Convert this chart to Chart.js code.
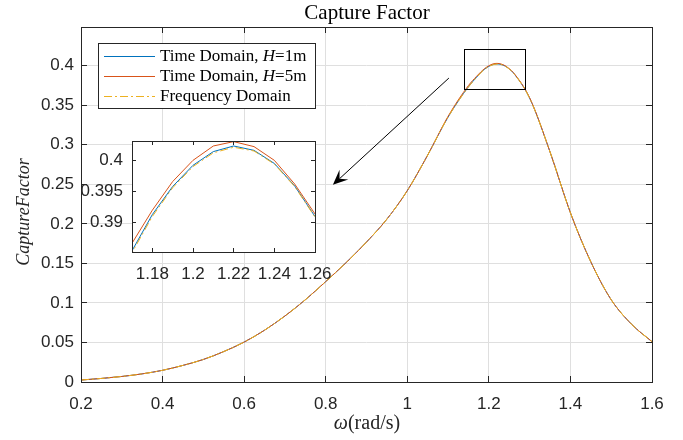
<!DOCTYPE html>
<html>
<head>
<meta charset="utf-8">
<script src="https://cdn.jsdelivr.net/npm/chart.js@4.4.1/dist/chart.umd.min.js"></script>
<style>
  html, body { margin: 0; padding: 0; background: #fff; }
  #wrap { position: relative; width: 683px; height: 440px; }
  #main { position: absolute; left: 0; top: 0; }
  #inset { position: absolute; left: 60px; top: 130px; }
</style>
</head>
<body>
<div id="wrap">
  <canvas id="main" width="683" height="440"></canvas>
  <canvas id="inset" width="290" height="150"></canvas>
</div>
<script>
// frequency (rad/s)
var omega = [0.2, 0.25, 0.3, 0.35, 0.4, 0.45, 0.5, 0.55, 0.6, 0.65, 0.7, 0.75, 0.8, 0.85, 0.9, 0.95,
  1.0, 1.05, 1.1, 1.15, 1.17, 1.18, 1.19, 1.2, 1.21, 1.22, 1.23, 1.24, 1.25, 1.26,
  1.3, 1.35, 1.4, 1.45, 1.5, 1.55, 1.6];

var timeH1 = [0.0025, 0.0045, 0.007, 0.0103, 0.0148, 0.021, 0.0285, 0.0385, 0.0505, 0.0655, 0.0835, 0.104, 0.127, 0.151, 0.177, 0.206,
  0.242, 0.287, 0.335, 0.3735, 0.3855, 0.3913, 0.3958, 0.3992, 0.4014, 0.4023, 0.4016, 0.3995, 0.3959, 0.3910,
  0.3590, 0.291, 0.214, 0.152, 0.104, 0.073, 0.051];

var timeH5 = [0.0025, 0.0045, 0.007, 0.0103, 0.0148, 0.021, 0.0285, 0.0385, 0.0505, 0.0655, 0.0835, 0.104, 0.127, 0.151, 0.177, 0.206,
  0.242, 0.287, 0.336, 0.375, 0.3867, 0.3920, 0.3966, 0.4000, 0.4023, 0.4030, 0.4022, 0.4000, 0.3962, 0.3914,
  0.3595, 0.291, 0.214, 0.152, 0.104, 0.073, 0.051];

var freqDomain = [0.0025, 0.0045, 0.007, 0.0103, 0.0148, 0.021, 0.0285, 0.0385, 0.0505, 0.0655, 0.0835, 0.104, 0.127, 0.151, 0.177, 0.206,
  0.242, 0.287, 0.335, 0.373, 0.3852, 0.3910, 0.3956, 0.3990, 0.4012, 0.4021, 0.4015, 0.3994, 0.3958, 0.3909,
  0.3588, 0.291, 0.214, 0.152, 0.104, 0.073, 0.051];

// *...* marks italic text
var seriesLabels = ['Time Domain, *H*=1m', 'Time Domain, *H*=5m', 'Frequency Domain'];
var seriesColors = ['#0072BD', '#D95319', '#EDB120'];
var seriesDash = [[], [], [8, 3, 2, 3]];

var xTicksMain = [0.2, 0.4, 0.6, 0.8, 1, 1.2, 1.4, 1.6];
var yTicksMain = [0, 0.05, 0.1, 0.15, 0.2, 0.25, 0.3, 0.35, 0.4];
var xTicksInset = [1.18, 1.2, 1.22, 1.24, 1.26];
var yTicksInset = [0.39, 0.395, 0.4];

var titleText = 'Capture Factor';
var xLabel = '*\u03C9*(rad/s)';
var yLabel = '*CaptureFactor*';

var zoomBox = { x0: 1.14, x1: 1.29, y0: 0.37, y1: 0.42 };
var arrowFrom = { x: 1.102, y: 0.3844 };
var arrowTo = { x: 0.8176, y: 0.2494 };

var tickFont = { family: '"Liberation Sans", Arial, sans-serif', size: 17 };
var axisColor = '#262626';
var gridColor = '#dfdfdf';

function fmt(v) { return String(+(+v).toFixed(4)); }

function makeDatasets() {
  var all = [timeH1, timeH5, freqDomain];
  return all.map(function(vals, k) {
    return {
      label: seriesLabels[k].replace(/\*/g, ''),
      data: omega.map(function(x, i) { return { x: x, y: vals[i] }; }),
      borderColor: seriesColors[k],
      borderWidth: 1,
      borderDash: seriesDash[k],
      pointRadius: 0,
      fill: false,
      order: 2 - k   // last series drawn on top, like MATLAB
    };
  });
}

function drawRich(ctx, text, x, y, size, align, color) {
  var parts = text.split('*');
  var fontOf = function(i) { return (i % 2 ? 'italic ' : '') + size + 'px "Liberation Serif", serif'; };
  var w = 0;
  parts.forEach(function(p, i) { ctx.font = fontOf(i); w += ctx.measureText(p).width; });
  var cx = align === 'center' ? x - w / 2 : x;
  ctx.fillStyle = color;
  ctx.textAlign = 'left';
  parts.forEach(function(p, i) {
    ctx.font = fontOf(i);
    ctx.fillText(p, cx, y);
    cx += ctx.measureText(p).width;
  });
}

function al(p) { return Math.round(p - 0.5) + 0.5; }

function framePlugin(tickLen, whiteBg) {
  return {
    id: 'frame',
    beforeDraw: function(chart) {
      if (!whiteBg) return;
      var a = chart.chartArea, ctx = chart.ctx;
      ctx.save();
      ctx.fillStyle = '#fff';
      ctx.fillRect(a.left, a.top, a.right - a.left, a.bottom - a.top);
      ctx.restore();
    },
    afterDatasetsDraw: function(chart) {
      var ctx = chart.ctx, a = chart.chartArea;
      var xs = chart.scales.x, ys = chart.scales.y;
      ctx.save();
      ctx.strokeStyle = axisColor;
      ctx.lineWidth = 1;
      ctx.setLineDash([]);
      ctx.beginPath();
      xs.ticks.forEach(function(t) {
        var p = al(xs.getPixelForValue(t.value));
        ctx.moveTo(p, a.bottom); ctx.lineTo(p, a.bottom - tickLen);
        ctx.moveTo(p, a.top); ctx.lineTo(p, a.top + tickLen);
      });
      ys.ticks.forEach(function(t) {
        var p = al(ys.getPixelForValue(t.value));
        ctx.moveTo(a.left, p); ctx.lineTo(a.left + tickLen, p);
        ctx.moveTo(a.right, p); ctx.lineTo(a.right - tickLen, p);
      });
      ctx.stroke();
      ctx.strokeRect(a.left + 0.5, a.top + 0.5, a.right - a.left, a.bottom - a.top);
      ctx.restore();
    }
  };
}

var extrasPlugin = {
  id: 'extras',
  afterDraw: function(chart) {
    var ctx = chart.ctx, a = chart.chartArea;
    var xs = chart.scales.x, ys = chart.scales.y;
    ctx.save();

    // zoom rectangle
    var rx0 = al(xs.getPixelForValue(zoomBox.x0)), rx1 = al(xs.getPixelForValue(zoomBox.x1));
    var ry0 = al(ys.getPixelForValue(zoomBox.y1)), ry1 = al(ys.getPixelForValue(zoomBox.y0));
    ctx.strokeStyle = '#000';
    ctx.lineWidth = 1;
    ctx.strokeRect(rx0, ry0, rx1 - rx0, ry1 - ry0);

    // arrow
    var sx = xs.getPixelForValue(arrowFrom.x), sy = ys.getPixelForValue(arrowFrom.y);
    var tx = xs.getPixelForValue(arrowTo.x), ty = ys.getPixelForValue(arrowTo.y);
    var dx = sx - tx, dy = sy - ty, len = Math.sqrt(dx * dx + dy * dy);
    var ux = dx / len, uy = dy / len, nx = -uy, ny = ux;
    var hl = 15, hw = 6.5;
    ctx.beginPath();
    ctx.moveTo(sx, sy);
    ctx.lineTo(tx + ux * hl * 0.6, ty + uy * hl * 0.6);
    ctx.stroke();
    ctx.fillStyle = '#000';
    ctx.beginPath();
    ctx.moveTo(tx, ty);
    ctx.lineTo(tx + ux * hl + nx * hw, ty + uy * hl + ny * hw);
    ctx.lineTo(tx + ux * hl * 0.6, ty + uy * hl * 0.6);
    ctx.lineTo(tx + ux * hl - nx * hw, ty + uy * hl - ny * hw);
    ctx.closePath();
    ctx.fill();

    // legend
    var lx = 98.5, ly = 43.5, lw = 217, lh = 65;
    ctx.fillStyle = '#fff';
    ctx.fillRect(lx, ly, lw, lh);
    ctx.strokeStyle = axisColor;
    ctx.strokeRect(lx, ly, lw, lh);
    ctx.textBaseline = 'middle';
    seriesLabels.forEach(function(lab, k) {
      var yy = 56 + k * 20;
      ctx.strokeStyle = seriesColors[k];
      ctx.setLineDash(seriesDash[k]);
      ctx.beginPath();
      ctx.moveTo(104, yy + 0.5);
      ctx.lineTo(155, yy + 0.5);
      ctx.stroke();
      ctx.setLineDash([]);
      drawRich(ctx, lab, 160, yy + 1, 17, 'left', '#000');
    });

    // title and axis labels
    ctx.textBaseline = 'alphabetic';
    var cxm = (a.left + a.right) / 2 + 0.5;
    drawRich(ctx, titleText, cxm, 18.5, 21, 'center', '#000');
    drawRich(ctx, xLabel, cxm, 429, 20, 'center', axisColor);
    ctx.save();
    ctx.translate(25, 212);
    ctx.rotate(-Math.PI / 2);
    drawRich(ctx, yLabel, 0, 4, 18, 'center', axisColor);
    ctx.restore();

    ctx.restore();
  }
};

function scaleOpts(min, max, ticks, width, height, padding, showGrid, axis) {
  return {
    type: 'linear',
    min: min,
    max: max,
    afterBuildTicks: function(s) { s.ticks = ticks.map(function(v) { return { value: v }; }); },
    afterFit: function(s) {
      if (axis === 'y') { s.width = width; s.paddingTop = 0; s.paddingBottom = 0; }
      else { s.height = height; s.paddingLeft = 0; s.paddingRight = 0; }
    },
    grid: { display: showGrid, color: gridColor, lineWidth: 1, drawTicks: false },
    border: { display: false },
    ticks: {
      font: tickFont,
      color: axisColor,
      padding: padding,
      autoSkip: false,
      maxRotation: 0,
      includeBounds: false,
      callback: function(v) { return fmt(v); }
    }
  };
}

Chart.defaults.animation = false;

new Chart(document.getElementById('main'), {
  type: 'line',
  data: { datasets: makeDatasets() },
  options: {
    responsive: false,
    layout: { padding: { top: 27, right: 31, left: 0, bottom: 0 } },
    elements: { line: { cubicInterpolationMode: 'monotone' } },
    plugins: { legend: { display: false }, tooltip: { enabled: false } },
    scales: {
      x: scaleOpts(0.2, 1.6, xTicksMain, 0, 58, 12, true, 'x'),
      y: scaleOpts(0, 0.449, yTicksMain, 81, 0, 7, true, 'y')
    }
  },
  plugins: [framePlugin(6, false), extrasPlugin]
});

new Chart(document.getElementById('inset'), {
  type: 'line',
  data: { datasets: makeDatasets() },
  options: {
    responsive: false,
    layout: { padding: { top: 11, right: 35, left: 0, bottom: 0 } },
    elements: { line: { tension: 0 } },
    plugins: { legend: { display: false }, tooltip: { enabled: false } },
    scales: {
      x: scaleOpts(1.17, 1.26, xTicksInset, 0, 28, 12, false, 'x'),
      y: scaleOpts(0.3853, 0.4031, yTicksInset, 72, 0, 9, false, 'y')
    }
  },
  plugins: [framePlugin(4, true)]
});
</script>
</body>
</html>
